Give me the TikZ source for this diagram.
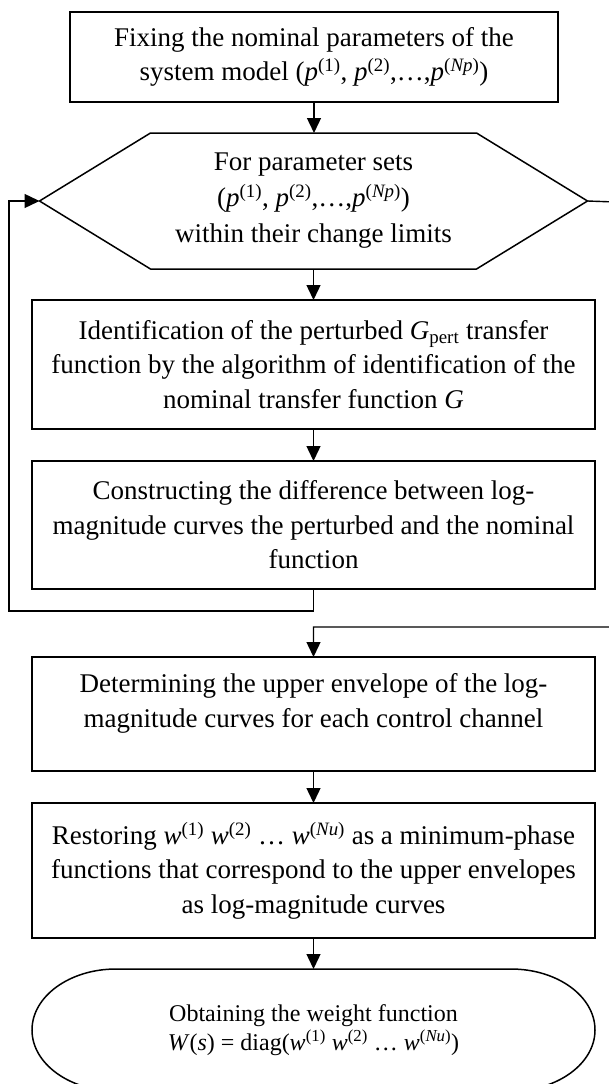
\documentclass[tikz,border=0pt]{standalone}
\usepackage{fontspec}
\setmainfont{Liberation Serif}
\usetikzlibrary{arrows.meta,calc}
\tikzset{
  box/.style={draw, line width=1.5pt, inner sep=0pt, outer sep=0pt, align=center,
    font=\fontsize{27}{34.5}\selectfont, minimum width=563pt},
  shp/.style={inner sep=0pt, outer sep=0pt, align=center},
  ln/.style={line width=1.5pt},
  arr/.style={line width=1.4pt, -{Triangle[length=15pt,width=14pt]}}
}
\newcommand{\supp}[1]{\textit{p}\textsuperscript{(#1)}}
\newcommand{\supw}[1]{\textit{w}\textsuperscript{(#1)}}
\begin{document}
\begin{tikzpicture}[x=1pt,y=-1pt]
\useasboundingbox (0,0) rectangle (609,1084);
\clip (0,0) rectangle (609,1084);
% boxes
\node[box, minimum width=488pt, minimum height=90pt] (b1) at (314,57)
  {Fixing the nominal parameters of the\\system model (\supp{1}, \supp{2},…,\supp{\textit{Np}})};
\node[shp, minimum width=548pt, minimum height=136pt,
  font=\fontsize{27}{36}\selectfont] (hex) at (313.5,201)
  {For parameter sets\\(\supp{1}, \supp{2},…,\supp{\textit{Np}})\\within their change limits};
\draw[ln] (hex.west) -- ([xshift=111pt]hex.north west) -- ([xshift=-111pt]hex.north east)
  -- (hex.east) -- ([xshift=-111pt]hex.south east) -- ([xshift=111pt]hex.south west) -- cycle;
\node[box, minimum height=129pt] (b2) at (313.5,364.5)
  {Identification of the perturbed \textit{G}\textsubscript{pert} transfer\\function by the algorithm of identification of the\\nominal transfer function \textit{G}};
\node[box, minimum height=128pt] (b3) at (313.5,525)
  {Constructing the difference between log-\\magnitude curves the perturbed and the nominal\\function};
\node[box, minimum height=114pt] (b4) at (313.5,714) {};
\node[shp, font=\fontsize{27}{34.5}\selectfont] (t4) at (313.5,703.5)
  {Determining the upper envelope of the log-\\magnitude curves for each control channel};
\node[box, minimum height=135pt] (b5) at (313.5,870.5)
  {Restoring \supw{1} \supw{2} … \supw{\textit{Nu}} as a minimum-phase\\functions that correspond to the upper envelopes\\as log-magnitude curves};
\node[shp, minimum width=563pt, minimum height=122pt,
  font=\fontsize{24}{29}\selectfont] (term) at (313.5,1030)
  {Obtaining the weight function\\\textit{W}(\textit{s}) = diag(\supw{1} \supw{2} … \supw{\textit{Nu}})};
\draw[ln] ([xshift=84pt]term.north west) -- ([xshift=-84pt]term.north east)
  arc[start angle=90, end angle=-90, x radius=84pt, y radius=61pt]
  -- ([xshift=84pt]term.south west)
  arc[start angle=270, end angle=90, x radius=84pt, y radius=61pt] -- cycle;
% connectors
\draw[arr] (b1.south) -- (b1.south |- hex.north);
\draw[arr] (hex.south -| b2.north) -- (b2.north);
\draw[arr] (b2.south) -- (b3.north);
\draw[arr] (b4.south) -- (b5.north);
\draw[arr] (b5.south) -- (term.north);
\coordinate (lb) at (9,611);
\draw[arr] (b3.south) |- (lb) |- (hex.west);
\coordinate (rt) at (615,202);
\coordinate (rb) at (615,627);
\draw[arr] (hex.east) -- (rt) -- (rb) -| (b4.north);
\end{tikzpicture}
\end{document}
